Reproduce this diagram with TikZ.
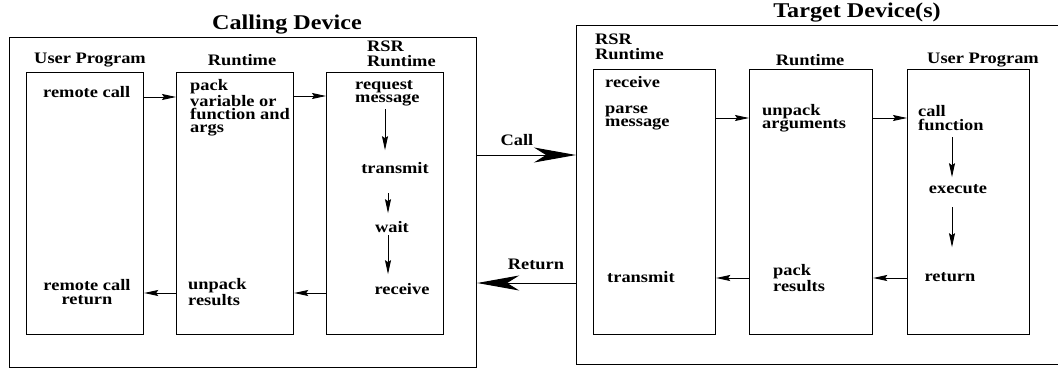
\documentclass[tikz,border=0pt]{standalone}
\usepackage{fontspec}
\setmainfont{Liberation Serif}[FakeStretch=1.15]
\usetikzlibrary{arrows.meta}
\begin{document}
\begin{tikzpicture}[x=1pt,y=-1pt,
  box/.style={draw,line width=1.2pt},
  txt/.style={inner sep=0pt,font=\fontsize{16}{13.3}\selectfont\bfseries,align=left},
  hdr/.style={inner sep=0pt,font=\fontsize{16}{14.5}\selectfont\bfseries,align=left},
  ttl/.style={inner sep=0pt,font=\fontsize{21}{24}\selectfont\bfseries},
  arr/.style={line width=0.9pt,-{Stealth[length=14pt,width=6pt,inset=2pt]}},
  bigarr/.style={line width=1pt,-{Stealth[length=42pt,width=15pt,inset=12pt]}}]
\useasboundingbox (0,0) rectangle (1058,369);
\begin{scope}
\clip (0,0) rectangle (1058,369);
% outer boxes
\node[box,inner sep=0pt,minimum width=467pt,minimum height=330pt,anchor=north west] (L) at (9,37) {};
\node[box,inner sep=0pt,minimum width=490pt,minimum height=339pt,anchor=north west] (R) at (576,25) {};
\end{scope}
\node[ttl] (tL) at (287,25) {Calling Device};
\node[ttl] (tR) at (857,13) {Target Device(s)};
% left inner boxes
\node[box,inner sep=0pt,minimum width=117pt,minimum height=262pt,anchor=north west] (lup) at (26,72) {};
\node[box,inner sep=0pt,minimum width=117pt,minimum height=262pt,anchor=north west] (lrt) at (176,72) {};
\node[box,inner sep=0pt,minimum width=117pt,minimum height=262pt,anchor=north west] (lrsr) at (326,72) {};
\node[hdr] (hlup) at (90,60) {User Program};
\node[hdr] (hlrt) at (242,60) {Runtime};
\node[hdr,anchor=west] (hlrsr) at (367,54) {RSR\\Runtime};
% right inner boxes
\node[box,inner sep=0pt,minimum width=122pt,minimum height=265pt,anchor=north west] (rrsr) at (593,69) {};
\node[box,inner sep=0pt,minimum width=123pt,minimum height=265pt,anchor=north west] (rrt) at (749,69) {};
\node[box,inner sep=0pt,minimum width=122pt,minimum height=265pt,anchor=north west] (rup) at (907,69) {};
\node[hdr,anchor=west] (hrrsr) at (595,47) {RSR\\Runtime};
\node[hdr] (hrrt) at (810,60) {Runtime};
\node[hdr] (hrup) at (983,60) {User Program};
% left texts
\node[txt,anchor=west] (rc) at (43,92) {remote call};
\node[txt,anchor=west] (pk) at (190,108) {pack\\variable or\\function and\\args};
\node[txt,anchor=west] (rq) at (355,93) {request\\message};
\node[txt] (tx) at (395,168) {transmit};
\node[txt] (wt) at (392,227) {wait};
\node[txt] (rv) at (402,289) {receive};
\node[txt,anchor=west] (up) at (188,292) {unpack\\results};
\node[txt,align=center] (rcr) at (87,292) {remote call\\return};
% right texts
\node[txt,anchor=west] (rrv) at (605,82) {receive};
\node[txt,anchor=west] (pm) at (605,118) {parse\\message};
\node[txt,anchor=west] (ua) at (762,118) {unpack\\arguments};
\node[txt,anchor=west] (cf) at (918,118) {call\\function};
\node[txt] (ex) at (958,189) {execute};
\node[txt] (rt) at (950,277) {return};
\node[txt,anchor=west] (pr) at (773,278) {pack\\results};
\node[txt,anchor=west] (rtx) at (607,277) {transmit};
% left arrows
\draw[arr] (lup.east |- 0,97) -- (lrt.west |- 0,97);
\draw[arr] (lrt.east |- 0,96) -- (lrsr.west |- 0,96);
\draw[arr,shorten >=12pt] (385,109) coordinate (a1) -- (a1 |- tx.north);
\draw[arr,shorten >=8pt] (388,193) coordinate (a2) -- (a2 |- wt.north);
\draw[arr,shorten >=9pt] (388,235) coordinate (a3) -- (a3 |- rv.north);
\draw[arr] (lrsr.west |- 0,293) -- (lrt.east |- 0,293);
\draw[arr] (lrt.west |- 0,293) -- (lup.east |- 0,293);
% right arrows
\draw[arr] (rrsr.east |- 0,118) -- (rrt.west |- 0,118);
\draw[arr] (rrt.east |- 0,118) -- (rup.west |- 0,118);
\draw[arr,shorten >=7pt] (952,137) coordinate (b1) -- (b1 |- ex.north);
\draw[arr,shorten >=25pt] (952,207) coordinate (b2) -- (b2 |- rt.north);
\draw[arr] (rup.west |- 0,278) -- (rrt.east |- 0,278);
\draw[arr] (rrt.west |- 0,278) -- (rrsr.east |- 0,278);
% between devices
\draw[bigarr] (L.east |- 0,155) -- (R.west |- 0,155);
\draw[bigarr] (R.west |- 0,283) -- (L.east |- 0,283);
\node[hdr] (lcall) at (517,140) {Call};
\node[hdr] (lret) at (536,264) {Return};
\end{tikzpicture}
\end{document}
